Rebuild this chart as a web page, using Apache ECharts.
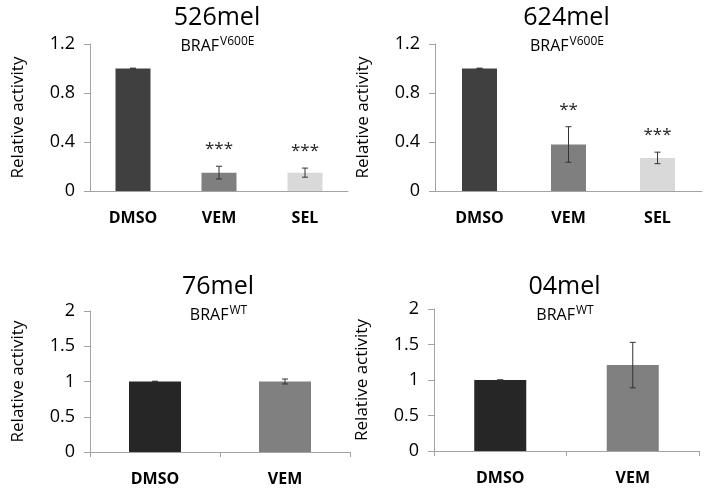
<!DOCTYPE html>
<html>
<head>
    <meta charset="UTF-8">
    <title>Relative activity</title>
    <script src="https://cdn.jsdelivr.net/npm/echarts@6/dist/echarts.min.js"></script>
    <style>
        body { margin: 0; background: #fff; }
    </style>
</head>
<body>
<div id="main" style="width: 704px; height: 492px"></div>
<script>
    // categories
    var cats3 = ['DMSO', 'VEM', 'SEL'];
    var cats2 = ['DMSO', 'VEM'];
    // cell lines (panel titles) and genotype
    var lines = ['526mel', '624mel', '76mel', '04mel'];
    var geno = ['V600E', 'V600E', 'WT', 'WT'];
    // bar values and error (+/-)
    var val526 = [1.0, 0.15, 0.15];
    var err526 = [0.003, 0.052, 0.037];
    var val624 = [1.0, 0.38, 0.27];
    var err624 = [0.003, 0.145, 0.047];
    var val76 = [1.0, 1.0];
    var err76 = [0.004, 0.035];
    var val04 = [1.0, 1.21];
    var err04 = [0.002, 0.32];
    // significance marks
    var stars526 = ['', '***', '***'];
    var stars624 = ['', '**', '***'];
    // y tick settings
    var yTop = { max: 1.2, interval: 0.4 };
    var yBot = { max: 2, interval: 0.5 };

    var FONT = '"Open Sans", "Noto Sans", sans-serif';
    var AXIS_C = '#a3a3a3';
    var topColors = ['#404040', '#7f7f7f', '#d9d9d9'];
    var botColors = ['#262626', '#808080'];

    var grids = [
        { left: 90, top: 44, width: 258, height: 147 },
        { left: 435, top: 44, width: 267, height: 147 },
        { left: 90, top: 311, width: 260, height: 141 },
        { left: 434, top: 309, width: 265, height: 142 }
    ];

    var panels = [
        { cats: cats3, vals: val526, errs: err526, stars: stars526, y: yTop, colors: topColors, bw: 35, ticks: false },
        { cats: cats3, vals: val624, errs: err624, stars: stars624, y: yTop, colors: topColors, bw: 35, ticks: false },
        { cats: cats2, vals: val76, errs: err76, stars: null, y: yBot, colors: botColors, bw: 52, ticks: true },
        { cats: cats2, vals: val04, errs: err04, stars: null, y: yBot, colors: botColors, bw: 52, ticks: true }
    ];

    // text width helper for the superscript layout
    var ctx = document.createElement('canvas').getContext('2d');
    function textW(str, font) {
        ctx.font = font;
        return ctx.measureText(str).width;
    }

    var xAxes = [], yAxes = [], series = [], graphics = [];

    panels.forEach(function (p, i) {
        xAxes.push({
            type: 'category', gridIndex: i, data: p.cats,
            axisLine: { lineStyle: { color: AXIS_C } },
            axisTick: { show: p.ticks, length: 5, lineStyle: { color: AXIS_C } },
            axisLabel: { color: '#000', fontSize: 16, fontWeight: 'bold', fontFamily: FONT, margin: 19 }
        });
        yAxes.push({
            type: 'value', gridIndex: i, min: 0, max: p.y.max, interval: p.y.interval,
            name: 'Relative activity', nameLocation: 'middle', nameRotate: 90, nameGap: 63,
            nameTextStyle: { color: '#000', fontSize: 17, fontFamily: FONT },
            axisLine: { show: true, lineStyle: { color: AXIS_C } },
            axisTick: { show: true, length: 6, lineStyle: { color: AXIS_C } },
            splitLine: { show: false },
            axisLabel: { color: '#000', fontSize: 18, fontFamily: FONT, margin: 15 }
        });
        series.push({
            type: 'bar', xAxisIndex: i, yAxisIndex: i, barWidth: p.bw,
            data: p.vals.map(function (v, k) {
                return { value: v, itemStyle: { color: p.colors[k] } };
            }),
            silent: true
        });
        series.push({
            type: 'custom', xAxisIndex: i, yAxisIndex: i, z: 10, silent: true,
            data: p.vals.map(function (v, k) {
                return [k, v - p.errs[k], v + p.errs[k], p.stars ? p.stars[k] : ''];
            }),
            renderItem: function (params, api) {
                var x = api.value(0);
                var lo = api.coord([x, api.value(1)]);
                var hi = api.coord([x, api.value(2)]);
                var st = { stroke: '#333', lineWidth: 1 };
                var kids = [
                    { type: 'line', shape: { x1: lo[0], y1: lo[1], x2: hi[0], y2: hi[1] }, style: st },
                    { type: 'line', shape: { x1: lo[0] - 3, y1: lo[1], x2: lo[0] + 3, y2: lo[1] }, style: st },
                    { type: 'line', shape: { x1: hi[0] - 3, y1: hi[1], x2: hi[0] + 3, y2: hi[1] }, style: st }
                ];
                var s = api.value(3);
                if (s) {
                    kids.push({
                        type: 'text', x: hi[0], y: hi[1] - 17,
                        style: { text: s, align: 'center', verticalAlign: 'middle', font: '17px ' + FONT, fill: '#222' }
                    });
                }
                return { type: 'group', children: kids };
            }
        });

        var g = grids[i];
        var cx = g.left + g.width / 2 - 2;
        var tY = i < 2 ? 18 : 287;
        var sY = i < 2 ? 46 : 315;
        graphics.push({
            type: 'text', x: cx, y: tY,
            style: { text: lines[i], align: 'center', verticalAlign: 'middle', font: '25px ' + FONT, fill: '#000' }
        });
        var bFont = '16px ' + FONT, sFont = '12px ' + FONT;
        var wb = textW('BRAF', bFont), ws = textW(geno[i], sFont);
        var anchor = cx - (wb + ws) / 2 + wb;
        graphics.push({
            type: 'text', x: anchor, y: sY,
            style: { text: 'BRAF', align: 'right', verticalAlign: 'middle', font: bFont, fill: '#000' }
        });
        graphics.push({
            type: 'text', x: anchor + 1, y: sY - 4,
            style: { text: geno[i], align: 'left', verticalAlign: 'middle', font: sFont, fill: '#000' }
        });
    });

    var myChart = echarts.init(document.getElementById('main'));
    myChart.setOption({
        backgroundColor: '#fff',
        animation: false,
        grid: grids,
        xAxis: xAxes,
        yAxis: yAxes,
        series: series,
        graphic: graphics
    });
</script>
</body>
</html>
